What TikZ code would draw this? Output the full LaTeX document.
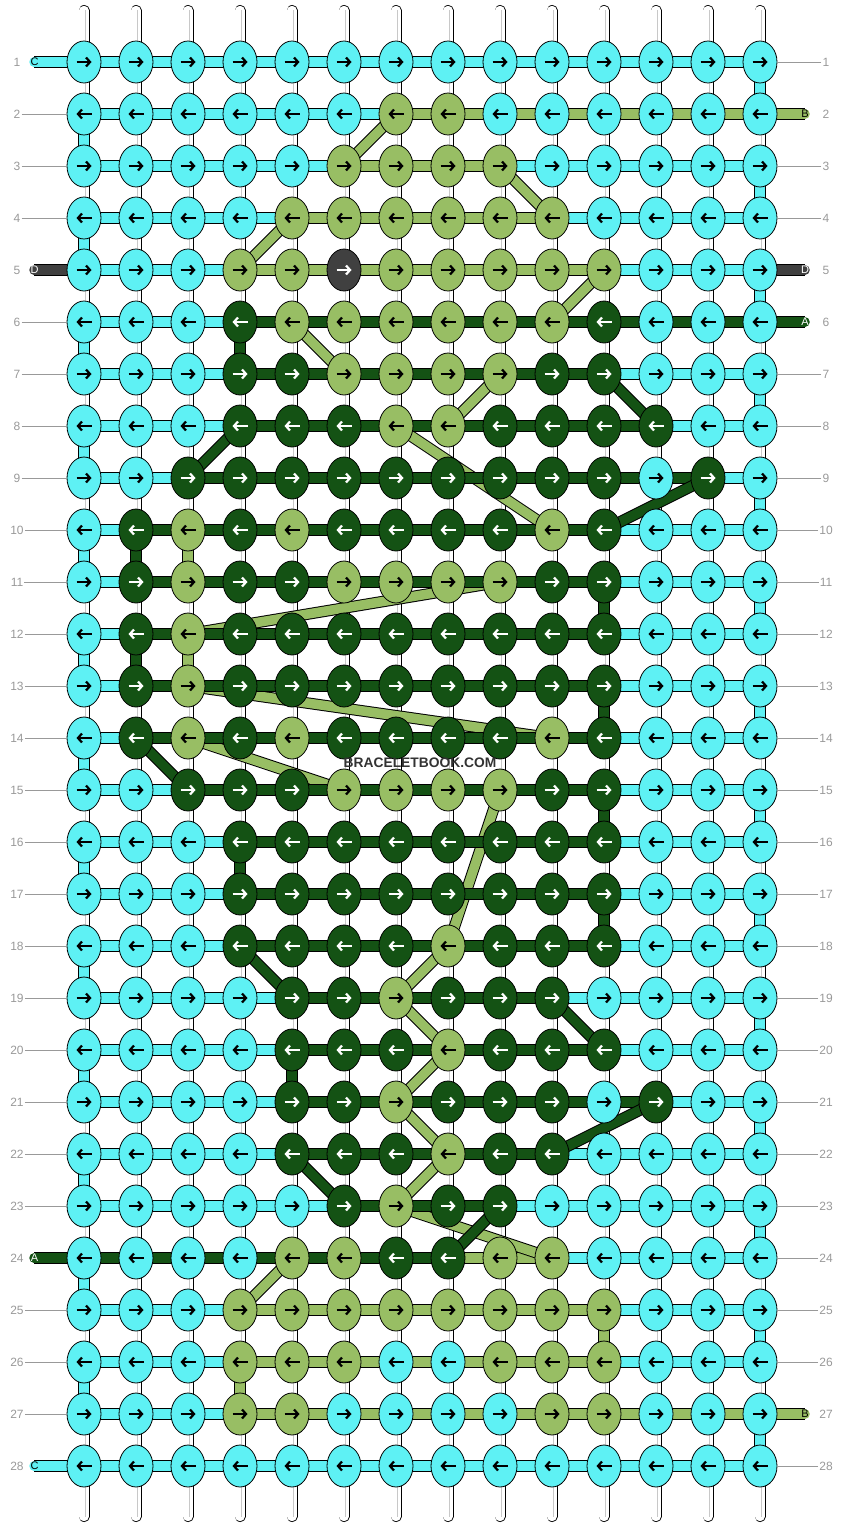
\documentclass[tikz,border=0pt]{standalone}
\usepackage{fontspec}
\setmainfont{Liberation Sans}
\usetikzlibrary{arrows.meta,shapes.geometric}
\definecolor{colC}{HTML}{5EF1F4}
\definecolor{colB}{HTML}{98BE64}
\definecolor{colA}{HTML}{145214}
\definecolor{colD}{HTML}{404040}
\definecolor{lab}{HTML}{999999}
\definecolor{wmc}{HTML}{333333}
\definecolor{midl}{HTML}{C8C8C8}
\pgfdeclarelayer{layW}
\pgfdeclarelayer{layD}
\pgfdeclarelayer{layC}
\pgfdeclarelayer{layB}
\pgfdeclarelayer{layA}
\pgfsetlayers{layW,layD,layC,layB,layA,main}
\tikzset{
  tube/.style={draw=#1, line width=9.5pt, preaction={draw=black, line width=11.5pt}},
  endbar/.style={tube=#1, line cap=round},
  strandout/.style={draw=black, line width=11pt, line cap=round},
  strandin/.style={draw=white, line width=9.4pt, line cap=round},
  strandmid/.style={draw=midl, line width=0.7pt},
  knot/.style={ellipse, minimum width=34pt, minimum height=42pt, inner sep=0pt, draw=black, line width=0.8pt},
  arr/.style={line width=2.2pt, -{Straight Barb[length=4pt,width=9pt]}},
  arrC/.style={black}, arrB/.style={black}, arrA/.style={white}, arrD/.style={white},
  numlab/.style={text=lab, font=\fontsize{12}{14}\selectfont, inner sep=1pt},
  labline/.style={draw=lab, line width=0.9pt},
  endlet/.style={font=\fontsize{11}{13}\selectfont, inner sep=0pt}
}
\newcount\chidx
\def\forchars#1#2{\chidx=0 \def\chbody{#1}\expandafter\forcharsaux#2\relax}
\def\forcharsaux#1{\ifx#1\relax\else\advance\chidx by 1 \chbody{#1}\expandafter\forcharsaux\fi}
\newcommand\knotbody[1]{%
  \pgfmathsetmacro\kx{84+52*(\the\chidx-1)}%
  \pgfmathsetmacro\ky{62+52*(\r-1)}%
  \node[knot, fill=col#1] (k\r-\the\chidx) at (\kx,\ky) {};%
  \ifodd\r\relax
    \draw[arr, arr#1] ([xshift=-7.5pt]k\r-\the\chidx.center) -- ([xshift=7.5pt]k\r-\the\chidx.center);%
  \else
    \draw[arr, arr#1] ([xshift=7.5pt]k\r-\the\chidx.center) -- ([xshift=-7.5pt]k\r-\the\chidx.center);%
  \fi}
\newcommand\segbody[1]{%
  \pgfmathtruncatemacro\nx{\the\chidx+1}%
  \begin{pgfonlayer}{lay#1}\draw[tube=col#1] (k\r-\the\chidx.center) -- (k\r-\nx.center);\end{pgfonlayer}}
\begin{document}
\begin{tikzpicture}[x=1pt,y=-1pt]
\path[use as bounding box] (0,0) rectangle (844,1528);
% base strands
\foreach \i in {1,...,14}{
  \pgfmathsetmacro\sx{84+52*(\i-1)}
  \coordinate (st\i) at (\sx,10.5);
  \coordinate (sb\i) at (\sx,1516.5);
  \coordinate (mt\i) at (\sx+1.2,10);
  \coordinate (mb\i) at (\sx+1.2,1517);
  \begin{pgfonlayer}{layW}
  \draw[strandout] (st\i) -- (sb\i);
  \draw[strandin] (st\i) -- (sb\i);
  \draw[strandmid] (mt\i) -- (mb\i);
  \end{pgfonlayer}
}
% knots and horizontal segments
\foreach \r/\ks/\ss in {%
1/CCCCCCCCCCCCCC/CCCCCCCCCCCCC,%
2/CCCCCCBBCCCCCC/CCCCCCBBBBBBB,%
3/CCCCCBBBBCCCCC/CCCCCBBBCCCCC,%
4/CCCCBBBBBBCCCC/CCCCBBBBBCCCC,%
5/CCCBBDBBBBBCCC/CCCBBBBBBBCCC,%
6/CCCABBBBBBACCC/CCCAAAAAAAAAA,%
7/CCCAABBBBAACCC/CCCAAAAAAACCC,%
8/CCCAAABBAAAACC/CCCAAAAAAAACC,%
9/CCAAAAAAAAACAC/CCAAAAAAAAAAC,%
10/CABABAAAABACCC/CAAAAAAAAACCC,%
11/CABAABBBBAACCC/CAAAAAAAAACCC,%
12/CABAAAAAAAACCC/CAAAAAAAAACCC,%
13/CABAAAAAAAACCC/CAAAAAAAAACCC,%
14/CABABAAAABACCC/CAAAAAAAAACCC,%
15/CCAAABBBBAACCC/CCAAAAAAAACCC,%
16/CCCAAAAAAAACCC/CCCAAAAAAACCC,%
17/CCCAAAAAAAACCC/CCCAAAAAAACCC,%
18/CCCAAAABAAACCC/CCCAAAAAAACCC,%
19/CCCCAABAAACCCC/CCCCAAAAACCCC,%
20/CCCCAAABAAACCC/CCCCAAAAAACCC,%
21/CCCCAABAAACACC/CCCCAAAAAAACC,%
22/CCCCAAABAACCCC/CCCCAAAAACCCC,%
23/CCCCCABAACCCCC/CCCCCAAACCCCC,%
24/CCCCBBAABBCCCC/AAAAAAABBCCCC,%
25/CCCBBBBBBBBCCC/CCCBBBBBBBCCC,%
26/CCCBBBCCBBBCCC/CCCBBBBBBBCCC,%
27/CCCBBCCCCBBCCC/CCCBBBBBBBBBB,%
28/CCCCCCCCCCCCCC/CCCCCCCCCCCCC%
}{
  \forchars{\knotbody}{\ks}
  \forchars{\segbody}{\ss}
  \pgfmathsetmacro\ly{62+52*(\r-1)}
  \node[numlab] (nl\r) at (17,\ly) {\r};
  \node[numlab] (nr\r) at (826,\ly) {\r};
}
% vertical connectors
\foreach \r/\c/\col in {1/14/C,2/1/C,3/14/C,4/1/C,5/14/C,6/1/C,6/4/A,7/14/C,8/1/C,9/14/C,10/1/C,10/2/A,10/3/B,11/14/C,11/11/A,12/1/C,12/2/A,12/3/B,13/14/C,13/11/A,14/1/C,15/14/C,15/11/A,16/1/C,16/4/A,17/14/C,17/11/A,18/1/C,19/14/C,20/1/C,20/5/A,21/14/C,22/1/C,23/14/C,24/1/C,25/14/C,25/11/B,26/1/C,26/4/B,27/14/C}{
  \pgfmathtruncatemacro\rn{\r+1}
  \begin{pgfonlayer}{lay\col}
  \draw[tube=col\col] (k\r-\c.center) -- (k\rn-\c.center);
  \end{pgfonlayer}
}
% diagonal strands
\foreach \ra/\ca/\rb/\cb/\col in {2/7/3/6/B,3/9/4/10/B,4/5/5/4/B,5/11/6/10/B,6/5/7/6/B,7/9/8/8/B,8/7/10/10/B,11/9/12/3/B,13/3/14/10/B,14/3/15/6/B,15/9/18/8/B,18/8/19/7/B,19/7/20/8/B,20/8/21/7/B,21/7/22/8/B,22/8/23/7/B,23/7/24/10/B,24/5/25/4/B,7/11/8/12/A,8/4/9/3/A,9/13/10/11/A,14/2/15/3/A,18/4/19/5/A,19/10/20/11/A,21/12/22/10/A,22/5/23/6/A,23/9/24/8/A}{
  \begin{pgfonlayer}{lay\col}
  \draw[tube=col\col] (k\ra-\ca.center) -- (k\rb-\cb.center);
  \end{pgfonlayer}
}
% string ends
\foreach \r/\col/\tc in {1/C/black,5/D/white,24/A/white,28/C/black}{
  \pgfmathsetmacro\ly{62+52*(\r-1)}
  \coordinate (le\r) at (34,\ly);
  \begin{pgfonlayer}{lay\col}
  \draw[endbar=col\col] (le\r) -- (k\r-1.center);
  \end{pgfonlayer}
  \node[endlet, text=\tc] (lt\r) at (34.5,\ly) {\col};
}
\foreach \r/\col/\tc in {2/B/black,5/D/white,6/A/white,27/B/black}{
  \pgfmathsetmacro\ly{62+52*(\r-1)}
  \coordinate (re\r) at (805,\ly);
  \begin{pgfonlayer}{lay\col}
  \draw[endbar=col\col] (re\r) -- (k\r-14.center);
  \end{pgfonlayer}
  \node[endlet, text=\tc] (rt\r) at (805,\ly) {\col};
}
% label lines
\foreach \r in {2,3,4,6,7,8,9,10,11,12,13,14,15,16,17,18,19,20,21,22,23,25,26,27}{
  \draw[labline] (nl\r) -- (k\r-1);
}
\foreach \r in {1,3,4,7,8,9,10,11,12,13,14,15,16,17,18,19,20,21,22,23,24,25,26,28}{
  \draw[labline] (nr\r) -- (k\r-14);
}
% watermark
\node[font=\bfseries\fontsize{13.8}{16}\selectfont, text=wmc, inner sep=1pt] (wm) at (420,763) {BRACELETBOOK.COM};
\end{tikzpicture}
\end{document}
